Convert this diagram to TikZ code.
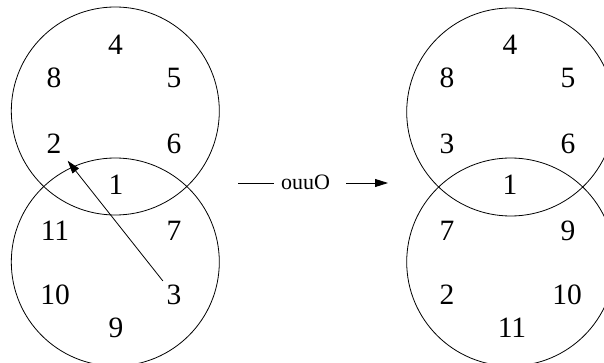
\documentclass[tikz,border=0pt]{standalone}
\usepackage{fontspec}
\setmainfont{Liberation Serif}
\usetikzlibrary{arrows.meta}
\begin{document}
\begin{tikzpicture}[x=1pt,y=-1pt,
  ring/.style={draw=black,line width=0.8pt},
  num/.style={inner sep=0pt,font=\fontsize{29.5}{30}\selectfont},
  lbl/.style={inner sep=0pt,font=\fontsize{22}{24}\selectfont},
  conn/.style={draw=black,line width=0.8pt},
  head/.style={-{Triangle[length=13pt,width=8pt]}}]
\useasboundingbox (0,0) rectangle (604,363);
% left circles
\node[ring,circle,minimum size=208pt,inner sep=0pt] (LT) at (115.3,111) {};
\node[ring,circle,minimum size=208pt,inner sep=0pt] (LB) at (115.3,262) {};
% right circles
\node[ring,circle,minimum size=208pt,inner sep=0pt] (RT) at (510.7,112) {};
\node[ring,circle,minimum size=208pt,inner sep=0pt] (RB) at (510.7,262) {};
% left numbers
\node[num] (l4) at (115.5,45) {4};
\node[num] (l8) at (54,78) {8};
\node[num] (l5) at (174,78) {5};
\node[num] (l2) at (54,143.5) {2};
\node[num] (l6) at (174,143.5) {6};
\node[num] (l1) at (116,185) {1};
\node[num] (l11) at (55,231) {11};
\node[num] (l7) at (174,231) {7};
\node[num] (l10) at (55,295) {10};
\node[num] (l3) at (174,295) {3};
\node[num] (l9) at (116,328) {9};
% right numbers
\node[num] (r4) at (510,45) {4};
\node[num] (r8) at (447,78) {8};
\node[num] (r5) at (568,78) {5};
\node[num] (r3) at (447,143.5) {3};
\node[num] (r6) at (568,143.5) {6};
\node[num] (r1) at (510,185) {1};
\node[num] (r7) at (447,231) {7};
\node[num] (r9) at (568,231) {9};
\node[num] (r2) at (447,295) {2};
\node[num] (r10) at (567,295) {10};
\node[num] (r11) at (512,328) {11};
% move arrow
\draw[conn,head,shorten <=18pt,shorten >=22pt] (l3.center) -- (l2.center);
% operation label
\node[lbl] (op) at (305.5,182) {ouuO};
\coordinate (opL) at (238,183);
\coordinate (opR) at (388,183);
\draw[conn] (opL) -- ([xshift=-7pt]op.west |- opL);
\draw[conn,head] ([xshift=16pt]op.east |- opR) -- (opR);
\end{tikzpicture}
\end{document}
